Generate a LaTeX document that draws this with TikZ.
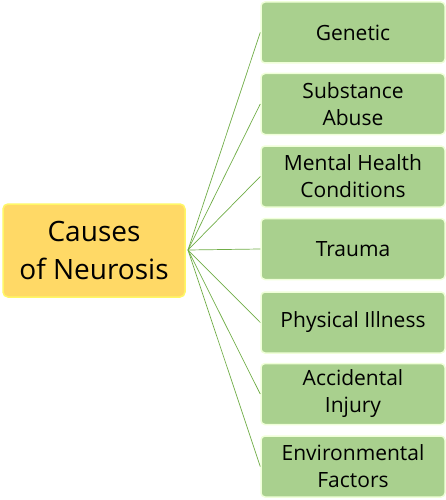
\documentclass[tikz,border=0pt]{standalone}
\usepackage{fontspec}
\setmainfont{Open Sans}
\begin{document}
\begin{tikzpicture}[x=1pt,y=-1pt,
  cause/.style={draw=green!20!lime!15!white, line width=1.5pt, fill=greenbox, rounded corners=4pt,
    minimum width=184pt, minimum height=61pt, inner sep=0pt, align=center,
    font=\fontsize{21}{27}\selectfont},
  root/.style={draw=yellow!60!white, line width=1.5pt, fill=yellowbox, rounded corners=5pt,
    minimum width=182pt, minimum height=93pt, inner sep=0pt, align=center,
    font=\fontsize{28}{38}\selectfont},
  link/.style={draw=linkgreen, line width=0.7pt}]
\definecolor{greenbox}{HTML}{A9D08E}
\definecolor{yellowbox}{HTML}{FFD966}
\definecolor{linkgreen}{HTML}{70AD47}
\useasboundingbox (0,0) rectangle (446,500);
\node[root] (r) at (94,250.5) {Causes\\of Neurosis};
\coordinate (hub) at (188,250);
\node[cause] (c1) at (353,32.5) {Genetic};
\node[cause] (c2) at (353,104) {Substance\\Abuse};
\node[cause] (c3) at (353,176.5) {Mental Health\\Conditions};
\node[cause] (c4) at (353,249) {Trauma};
\node[cause] (c5) at (353,322.5) {Physical Illness};
\node[cause] (c6) at (353,394) {Accidental\\Injury};
\node[cause] (c7) at (353,466.5) {Environmental\\Factors};
\foreach \i in {1,...,7}{\draw[link] (hub) -- (c\i.west);}
\end{tikzpicture}
\end{document}
